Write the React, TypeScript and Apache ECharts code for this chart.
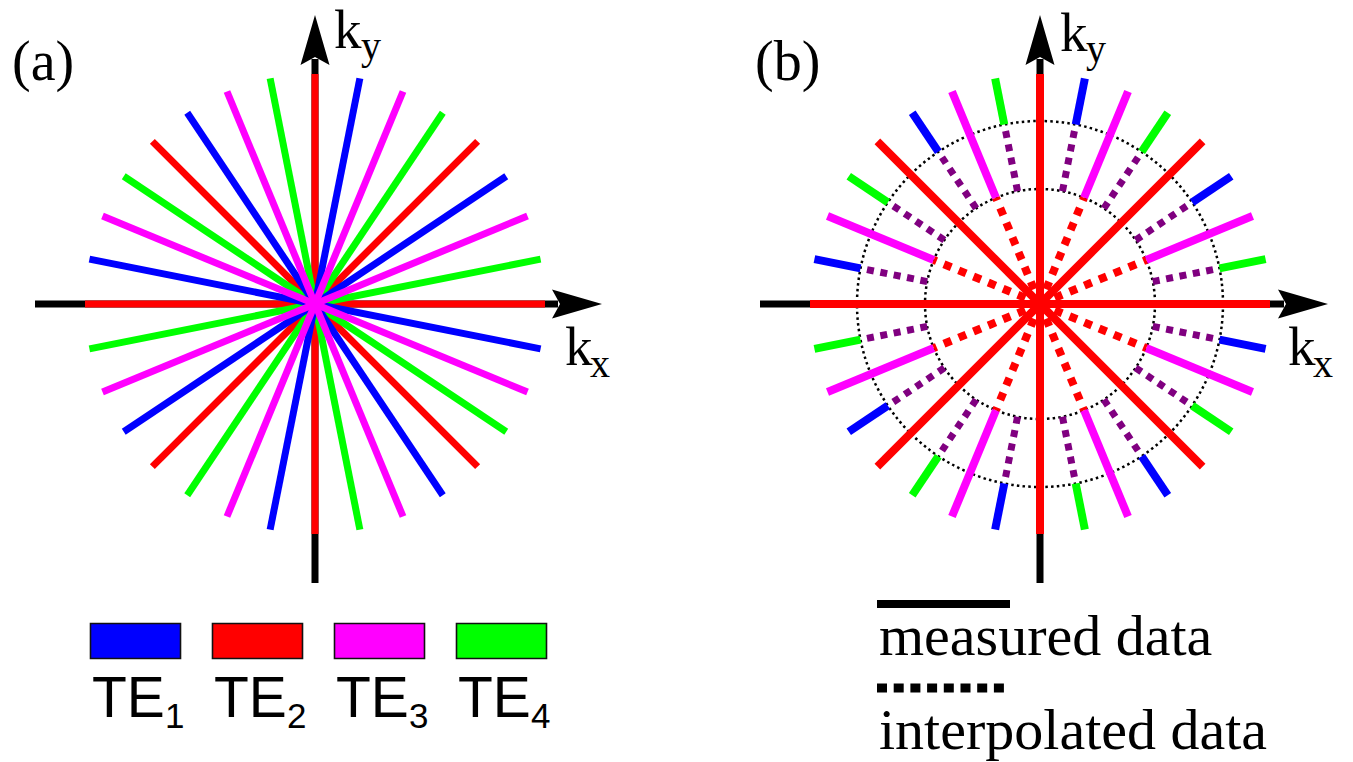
import React, { useEffect, useRef } from 'react';
import * as echarts from 'echarts';

// ---- data ----
const modes = ['TE1', 'TE2', 'TE3', 'TE4'];
const modeColors = ['#0000ff', '#ff0000', '#ff00ff', '#00ff00'];
const modeSubs = ['1', '2', '3', '4'];

// directions (degrees) of the 16 measured diameters and their mode
const spokeAngles = [0, 11.25, 22.5, 33.75, 45, 56.25, 67.5, 78.75, 90, 101.25, 112.5, 123.75, 135, 146.25, 157.5, 168.75];
const spokeModes = ['TE2', 'TE4', 'TE3', 'TE1', 'TE2', 'TE4', 'TE3', 'TE1', 'TE2', 'TE4', 'TE3', 'TE1', 'TE2', 'TE4', 'TE3', 'TE1'];
const spokeRadius = 230;

// panel (b): radius where the measured part starts, and the interpolated part
const ringRadii = [115, 183];
const measuredFrom = [0, 183, 115, 183, 0, 183, 115, 183, 0, 183, 115, 183, 0, 183, 115, 183];
const interpFrom = [null, 115, 0, 115, null, 115, 0, 115, null, 115, 0, 115, null, 115, 0, 115];
const interpTo = [null, 183, 115, 183, null, 183, 115, 183, null, 183, 115, 183, null, 183, 115, 183];
const interpColors = [null, '#800080', '#ff0000', '#800080', null, '#800080', '#ff0000', '#800080', null, '#800080', '#ff0000', '#800080', null, '#800080', '#ff0000', '#800080'];

// k-space axes: [angle, start, tip]
const axesA = [[0, -280, 287], [90, -279, 289]];
const axesB = [[0, -280, 288], [90, -279, 289]];

const legendB = ['measured data', 'interpolated data'];

type Seg = { angle: number; r0: number; r1: number; color: string; width: number; dash?: number[] };

function segSeries(gridIndex: number, segs: Seg[], z: number) {
  return {
    type: 'custom',
    coordinateSystem: 'cartesian2d',
    xAxisIndex: gridIndex,
    yAxisIndex: gridIndex,
    z,
    silent: true,
    data: segs.map((s) => [s.angle, s.r0, s.r1]),
    renderItem: (params: any, api: any) => {
      const s = segs[params.dataIndex];
      const t = (api.value(0) * Math.PI) / 180;
      const a = api.value(1);
      const b = api.value(2);
      const p0 = api.coord([a * Math.cos(t), a * Math.sin(t)]);
      const p1 = api.coord([b * Math.cos(t), b * Math.sin(t)]);
      return {
        type: 'line',
        shape: { x1: p0[0], y1: p0[1], x2: p1[0], y2: p1[1] },
        style: { stroke: s.color, lineWidth: s.width, lineDash: s.dash, lineCap: 'butt', fill: null },
      };
    },
  };
}

function axisSeries(gridIndex: number, axes: number[][], z: number) {
  return {
    type: 'custom',
    coordinateSystem: 'cartesian2d',
    xAxisIndex: gridIndex,
    yAxisIndex: gridIndex,
    z,
    silent: true,
    data: axes.map((a) => [a[0], a[1], a[2]]),
    renderItem: (params: any, api: any) => {
      const t = (api.value(0) * Math.PI) / 180;
      const r0 = api.value(1);
      const L = api.value(2);
      const P = (r: number, w: number) => api.coord([r * Math.cos(t) - w * Math.sin(t), r * Math.sin(t) + w * Math.cos(t)]);
      const s0 = P(r0, 0);
      const s1 = P(L - 44, 0);
      return {
        type: 'group',
        children: [
          { type: 'line', shape: { x1: s0[0], y1: s0[1], x2: s1[0], y2: s1[1] }, style: { stroke: '#000', lineWidth: 7, lineCap: 'butt' } },
          { type: 'polygon', shape: { points: [P(L, 0), P(L - 50, 14.5), P(L - 42, 0), P(L - 50, -14.5)] }, style: { fill: '#000' } },
        ],
      };
    },
  };
}

function ringSeries(gridIndex: number, z: number) {
  return {
    type: 'custom',
    coordinateSystem: 'cartesian2d',
    xAxisIndex: gridIndex,
    yAxisIndex: gridIndex,
    z,
    silent: true,
    data: ringRadii.map((r) => [0, r]),
    renderItem: (params: any, api: any) => {
      const c = api.coord([0, 0]);
      const e = api.coord([api.value(1), 0]);
      return {
        type: 'circle',
        shape: { cx: c[0], cy: c[1], r: e[0] - c[0] },
        style: { fill: 'none', stroke: '#000', lineWidth: 2.5, lineDash: [2.5, 3.2], lineCap: 'butt' },
      };
    },
  };
}

const colorOf = (m: string) => modeColors[modes.indexOf(m)];

function serifText(text: string, x: number, baseline: number, size: number, family = '"Liberation Serif", "Times New Roman", serif', k = 0.338) {
  return {
    type: 'text',
    x,
    y: baseline - k * size,
    silent: true,
    z: 100,
    style: { text, fill: '#000', fontSize: size, fontFamily: family, align: 'left', verticalAlign: 'middle', textAlign: 'left', textVerticalAlign: 'middle' },
  };
}
const sansText = (text: string, x: number, baseline: number, size: number) =>
  serifText(text, x, baseline, size, '"Liberation Sans", Arial, sans-serif', 0.347);

export default function App() {
  const ref = useRef<HTMLDivElement>(null);
  useEffect(() => {
    if (!ref.current) return;
    const chart = echarts.init(ref.current, undefined, { renderer: 'svg' });

    // panel (a)
    const drawOrder = ['TE2', 'TE4', 'TE1', 'TE3'];
    const segsA: Seg[] = [];
    drawOrder.forEach((m) => {
      spokeAngles.forEach((a, i) => {
        if (spokeModes[i] === m) segsA.push({ angle: a, r0: -spokeRadius, r1: spokeRadius, color: colorOf(m), width: 7 });
      });
    });

    // panel (b)
    const dottedPurple: Seg[] = [];
    const dottedRed: Seg[] = [];
    const measuredOther: Seg[] = [];
    const measuredRed: Seg[] = [];
    spokeAngles.forEach((a, i) => {
      const col = colorOf(spokeModes[i]);
      const from = measuredFrom[i];
      const target = spokeModes[i] === 'TE2' ? measuredRed : measuredOther;
      if (from === 0) {
        target.push({ angle: a, r0: -spokeRadius, r1: spokeRadius, color: col, width: 8 });
      } else {
        target.push({ angle: a, r0: from, r1: spokeRadius, color: col, width: 8 });
        target.push({ angle: a, r0: -from, r1: -spokeRadius, color: col, width: 8 });
      }
      const f = interpFrom[i];
      const t = interpTo[i];
      const ic = interpColors[i];
      if (f !== null && t !== null && ic) {
        if (ic === '#ff0000') {
          dottedRed.push({ angle: a, r0: f, r1: t, color: ic, width: 8, dash: [8, 8] });
          dottedRed.push({ angle: a, r0: -f, r1: -t, color: ic, width: 8, dash: [8, 8] });
        } else {
          dottedPurple.push({ angle: a, r0: f, r1: t, color: ic, width: 7, dash: [7, 6.6] });
          dottedPurple.push({ angle: a, r0: -f, r1: -t, color: ic, width: 7, dash: [7, 6.6] });
        }
      }
    });

    const graphics: any[] = [];
    graphics.push(serifText('(a)', 12, 80, 56));
    graphics.push(serifText('(b)', 755, 80, 56));
    graphics.push(serifText('k', 334, 48, 55));
    graphics.push(serifText('y', 361, 59, 40));
    graphics.push(serifText('k', 565, 365, 55));
    graphics.push(serifText('x', 590, 377, 40));
    graphics.push(serifText('k', 1060, 51, 55));
    graphics.push(serifText('y', 1086, 62, 40));
    graphics.push(serifText('k', 1288, 365, 55));
    graphics.push(serifText('x', 1313, 377, 40));

    // legend (a)
    modes.forEach((m, i) => {
      const x0 = 90 + i * 122;
      graphics.push({
        type: 'rect',
        silent: true,
        z: 100,
        shape: { x: x0 + 0.5, y: 623.5, width: 90, height: 35 },
        style: { fill: modeColors[i], stroke: '#111', lineWidth: 1.6 },
      });
      graphics.push(sansText(m.slice(0, 2), x0 + 2, 717, 57));
      graphics.push(sansText(modeSubs[i], x0 + 75, 728, 35));
    });

    // legend (b)
    graphics.push({ type: 'line', silent: true, z: 100, shape: { x1: 877, y1: 604, x2: 1010, y2: 604 }, style: { stroke: '#000', lineWidth: 8, lineCap: 'butt' } });
    graphics.push(serifText(legendB[0], 879, 655, 58));
    graphics.push({ type: 'line', silent: true, z: 100, shape: { x1: 877, y1: 688, x2: 1008, y2: 688 }, style: { stroke: '#000', lineWidth: 9, lineDash: [10, 6.7], lineCap: 'butt' } });
    graphics.push(serifText(legendB[1], 879, 749, 58));

    const axisCommon = { type: 'value', min: -300, max: 300, show: false };
    chart.setOption({
      animation: false,
      backgroundColor: '#ffffff',
      grid: [
        { left: 15, top: 4, width: 600, height: 600 },
        { left: 740, top: 4, width: 600, height: 600 },
      ],
      xAxis: [{ ...axisCommon, gridIndex: 0 }, { ...axisCommon, gridIndex: 1 }],
      yAxis: [{ ...axisCommon, gridIndex: 0 }, { ...axisCommon, gridIndex: 1 }],
      series: [
        axisSeries(0, axesA, 1),
        segSeries(0, segsA, 2),
        ringSeries(1, 1),
        axisSeries(1, axesB, 2),
        segSeries(1, dottedPurple, 3),
        segSeries(1, measuredOther, 4),
        segSeries(1, dottedRed, 5),
        segSeries(1, measuredRed, 6),
      ],
      graphic: graphics,
    });
    return () => chart.dispose();
  }, []);
  return <div ref={ref} style={{ position: 'fixed', left: 0, top: 0, width: 1353, height: 762, background: '#fff' }} />;
}
